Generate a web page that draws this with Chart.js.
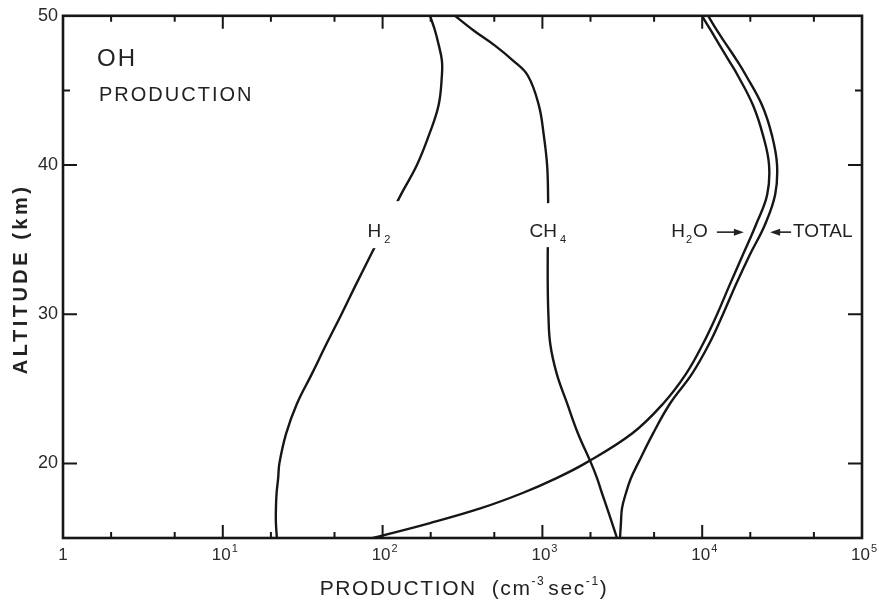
<!DOCTYPE html>
<html>
<head>
<meta charset="utf-8">
<script src="https://cdn.jsdelivr.net/npm/chart.js@4.4.0/dist/chart.umd.min.js"></script>
<style>
html, body { margin: 0; padding: 0; background: #fff; }
</style>
</head>
<body>
<canvas id="myChart" width="879" height="602"></canvas>
<script>
// OH production profiles (cm-3 sec-1 vs altitude km)
var altitude  = [15, 16, 17, 18, 19, 20, 22, 24, 26, 28, 30, 32, 34, 36, 38, 40, 42, 44, 46, 47, 48, 49, 50];
var prodH2    = [21.8, 21.5, 21.5, 21.7, 22.2, 22.6, 24.9, 29.1, 36.1, 44.5, 55.3, 68.2, 84.6, 105, 130, 164, 195, 224, 235, 235, 225, 213, 198];
var prodCH4   = [2930, 2730, 2540, 2360, 2200, 2020, 1670, 1430, 1230, 1120, 1090, 1080, 1080, 1085, 1085, 1070, 1020, 950, 810, 655, 505, 373, 284];
var prodH2O   = [87, 198, 413, 745, 1217, 1849, 3640, 5690, 7920, 10100, 12400, 14900, 18000, 21700, 25500, 26200, 24000, 20800, 16700, 14700, 12900, 11350, 9970];
var prodTotal = [3060, 3100, 3150, 3330, 3580, 3965, 4920, 6280, 8630, 11040, 13490, 16280, 19900, 24700, 28600, 29400, 27300, 23700, 18800, 16500, 14300, 12400, 10900];

var xTicks = [1, 10, 100, 1000, 10000, 100000];
var xTickExp = ['', '1', '2', '3', '4', '5'];
var yTicks = [20, 30, 40, 50];

var FONT = '"Liberation Sans", Arial, Helvetica, sans-serif';
var INK = '#161616';

function series(vals) {
	return {
		data: altitude.map(function (a, i) { return { x: vals[i], y: a }; }),
		borderColor: INK,
		borderWidth: 2.4,
		pointRadius: 0,
		fill: false,
		tension: 0.4
	};
}

// text made of pieces [text, size, dy, gapAfter] drawn one after another
function textRun(c, parts, x, y, measureOnly) {
	var cx = x;
	parts.forEach(function (p) {
		c.font = p[1] + 'px ' + FONT;
		if (!measureOnly) c.fillText(p[0], cx, y + (p[2] || 0));
		cx += c.measureText(p[0]).width + (p[3] || 0);
	});
	return cx - x;
}

function arrow(c, x0, x1, y) {
	var dir = x1 > x0 ? 1 : -1;
	c.beginPath();
	c.moveTo(x0, y);
	c.lineTo(x1 - dir * 6, y);
	c.lineWidth = 1.6;
	c.stroke();
	c.beginPath();
	c.moveTo(x1, y);
	c.lineTo(x1 - dir * 10, y - 3.5);
	c.lineTo(x1 - dir * 10, y + 3.5);
	c.closePath();
	c.fill();
}

var framePlugin = {
	id: 'frame',
	afterDatasetsDraw: function (chart) {
		var c = chart.ctx, a = chart.chartArea;
		var xs = chart.scales.x, ys = chart.scales.y;
		c.save();

		// curve labels (gaps cut in the H2 and CH4 curves)
		var ly = ys.getPixelForValue(35.5);
		var h2x = xs.getPixelForValue(95), ch4x = xs.getPixelForValue(1080);
		c.fillStyle = '#fff';
		c.fillRect(h2x - 15, ly - 31, 42, 47);
		c.fillRect(ch4x - 12, ly - 29, 24, 44);

		c.fillStyle = '#222';
		c.strokeStyle = '#222';
		c.textBaseline = 'middle';
		c.textAlign = 'left';
		var h2parts = [['H', 19, 0, 3], ['2', 11, 8]];
		var w = textRun(c, h2parts, 0, 0, true);
		textRun(c, h2parts, h2x - w / 2, ly);
		var ch4parts = [['CH', 19, 0, 3], ['4', 11, 8]];
		w = textRun(c, ch4parts, 0, 0, true);
		textRun(c, ch4parts, ch4x - w / 2, ly);

		var h2ox = xs.getPixelForValue(6400);
		w = textRun(c, [['H', 19, 0, 1], ['2', 11, 8, 1], ['O', 19, 0]], h2ox, ly);
		arrow(c, h2ox + w + 9, h2ox + w + 36, ly);
		var totx = xs.getPixelForValue(26600);
		arrow(c, totx + 21, totx, ly);
		textRun(c, [['TOTAL', 19, 0]], totx + 23, ly);

		// corner title
		c.letterSpacing = '2px';
		c.font = '24px ' + FONT;
		c.fillText('OH', a.left + 34, a.top + 44);
		c.font = '20px ' + FONT;
		c.fillText('PRODUCTION', a.left + 36, a.top + 80);
		c.letterSpacing = '0px';

		// frame
		c.strokeStyle = INK;
		c.lineWidth = 2.6;
		c.strokeRect(a.left, a.top, a.right - a.left, a.bottom - a.top);

		// inward ticks
		c.lineWidth = 2;
		c.beginPath();
		[1, 10, 100, 1000, 10000].forEach(function (d) {
			[[1, 13], [2, 6], [5, 6]].forEach(function (m) {
				var v = d * m[0];
				if (v <= 1) return;
				var px = xs.getPixelForValue(v);
				c.moveTo(px, a.bottom); c.lineTo(px, a.bottom - m[1]);
				c.moveTo(px, a.top); c.lineTo(px, a.top + m[1]);
			});
		});
		[[20, 14], [30, 14], [40, 14], [45, 7]].forEach(function (t) {
			var py = ys.getPixelForValue(t[0]);
			c.moveTo(a.left, py); c.lineTo(a.left + t[1], py);
			c.moveTo(a.right, py); c.lineTo(a.right - t[1], py);
		});
		c.stroke();

		// x tick labels: 1, 10^1 ... 10^5
		c.fillStyle = '#2a2a2a';
		c.textBaseline = 'middle';
		xTicks.forEach(function (v, i) {
			var px = xs.getPixelForValue(v);
			var parts = xTickExp[i] ? [['10', 17, 0, 1], [xTickExp[i], 11, -6]] : [['1', 17, 0]];
			var base = textRun(c, [parts[0]], 0, 0, true);
			textRun(c, parts, px - base / 2 - (i ? 1 : 0), a.bottom + 17);
		});

		// axis titles
		c.fillStyle = '#222';
		c.save();
		c.translate(21, (a.top + a.bottom) / 2 + 2);
		c.rotate(-Math.PI / 2);
		c.letterSpacing = '3.5px';
		c.font = 'bold 20px ' + FONT;
		c.textAlign = 'center';
		c.fillText('ALTITUDE (km)', 0, 0);
		c.restore();

		c.letterSpacing = '1.6px';
		var tparts = [['PRODUCTION  (cm', 21, 0], ['-3', 12, -7, 3], ['sec', 21, 0], ['-1', 12, -7], [')', 21, 0]];
		w = textRun(c, tparts, 0, 0, true);
		textRun(c, tparts, 464 - w / 2, 589);
		c.letterSpacing = '0px';
		c.restore();
	}
};

var myChart = new Chart(document.getElementById('myChart').getContext('2d'), {
	type: 'line',
	data: {
		datasets: [series(prodH2), series(prodCH4), series(prodH2O), series(prodTotal)]
	},
	options: {
		responsive: false,
		animation: false,
		devicePixelRatio: 1,
		indexAxis: 'y',
		layout: { padding: { left: 0, top: 15, right: 17, bottom: 0 } },
		plugins: { legend: { display: false }, tooltip: { enabled: false } },
		scales: {
			x: {
				type: 'logarithmic',
				position: 'bottom',
				min: 1,
				max: 100000,
				grid: { display: false, drawTicks: false },
				border: { display: false },
				afterBuildTicks: function (s) { s.ticks = xTicks.map(function (v) { return { value: v }; }); },
				afterFit: function (s) { s.height = 64; },
				ticks: { display: false }
			},
			y: {
				type: 'linear',
				position: 'left',
				min: 15,
				max: 50,
				grid: { display: false, drawTicks: false },
				border: { display: false },
				afterBuildTicks: function (s) { s.ticks = yTicks.map(function (v) { return { value: v }; }); },
				afterFit: function (s) { s.width = 63; },
				ticks: {
					padding: 5,
					color: '#2a2a2a',
					font: { size: 18, family: FONT }
				}
			}
		}
	},
	plugins: [framePlugin]
});
</script>
</body>
</html>
